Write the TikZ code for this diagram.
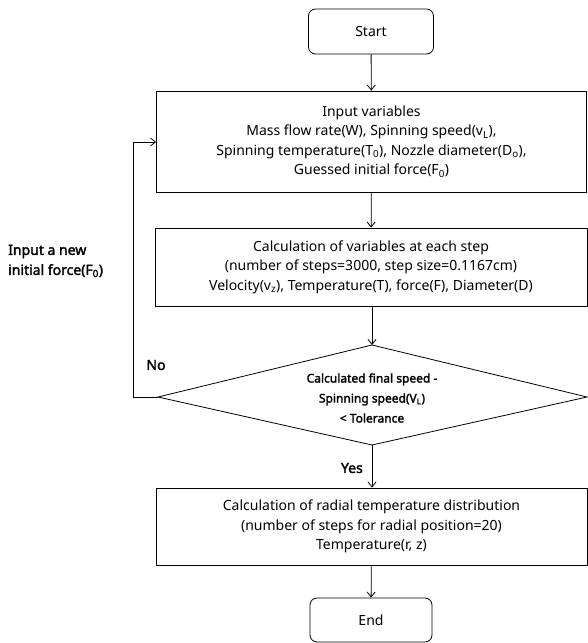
\documentclass[tikz,border=0pt]{standalone}
\usepackage{fontspec}
\setmainfont{Noto Sans}[AutoFakeBold=2]
\usetikzlibrary{arrows.meta}
\begin{document}
\begin{tikzpicture}[x=1pt,y=-1pt,
  box/.style={draw, line width=0.8pt, align=center, inner sep=0pt,
    font=\fontsize{14}{19.5}\selectfont},
  term/.style={box, rounded corners=7pt},
  lbl/.style={font=\fontsize{14}{20}\selectfont\bfseries, inner sep=0pt},
  flow/.style={draw, line width=0.8pt, -{Straight Barb[length=5pt,width=8pt]}}
]
\useasboundingbox (0,0) rectangle (588,643);
\node[term, minimum width=125pt, minimum height=45pt] (start) at (371,31.5) {Start};
\node[box, minimum width=430pt, minimum height=101pt] (input) at (371.5,141.5)
  {Input variables\\
   Mass flow rate(W), Spinning speed(v\textsubscript{L}),\\
   Spinning temperature(T\textsubscript{0}), Nozzle diameter(D\textsubscript{o}),\\
   Guessed initial force(F\textsubscript{0})};
\node[box, minimum width=432pt, minimum height=78pt] (calc) at (371,267)
  {Calculation of variables at each step\\
   (number of steps=3000, step size=0.1167cm)\\
   Velocity(v\textsubscript{z}), Temperature(T), force(F), Diameter(D)};
\coordinate (dtop) at (372,345);
\coordinate (dright) at (587,397);
\coordinate (dbot) at (372,445);
\coordinate (dleft) at (158,397);
\draw[line width=0.8pt] (dtop) -- (dright) -- (dbot) -- (dleft) -- cycle;
\node[align=center, inner sep=0pt, font=\fontsize{12}{20}\selectfont\bfseries] (dtext) at (372,398)
  {Calculated final speed -\\ Spinning speed(V\textsubscript{L})\\ {<} Tolerance};
\node[box, minimum width=431pt, minimum height=77pt] (result) at (371.5,526.5)
  {Calculation of radial temperature distribution\\
   (number of steps for radial position=20)\\
   Temperature(r, z)};
\node[term, minimum width=122pt, minimum height=44pt] (end) at (371,620) {End};
\coordinate (lp1) at (133,397);
\coordinate (lp2) at (133,142);
\node[lbl] (no) at (156,365) {No};
\node[lbl, anchor=east] (yes) at (363,468) {Yes};
\node[lbl, align=left, anchor=west] (newf) at (8,261) {Input a new\\ initial force(F\textsubscript{0})};
\draw[flow] (start) -- (input);
\draw[flow] (input) -- (calc);
\draw[flow] (calc.south -| dtop) -- (dtop);
\draw[flow] (dbot) -- (result.north -| dbot);
\draw[flow] (result) -- (end);
\draw[flow] (dleft) -- (lp1) -- (lp2) -- (lp2 -| input.west);
\end{tikzpicture}
\end{document}
